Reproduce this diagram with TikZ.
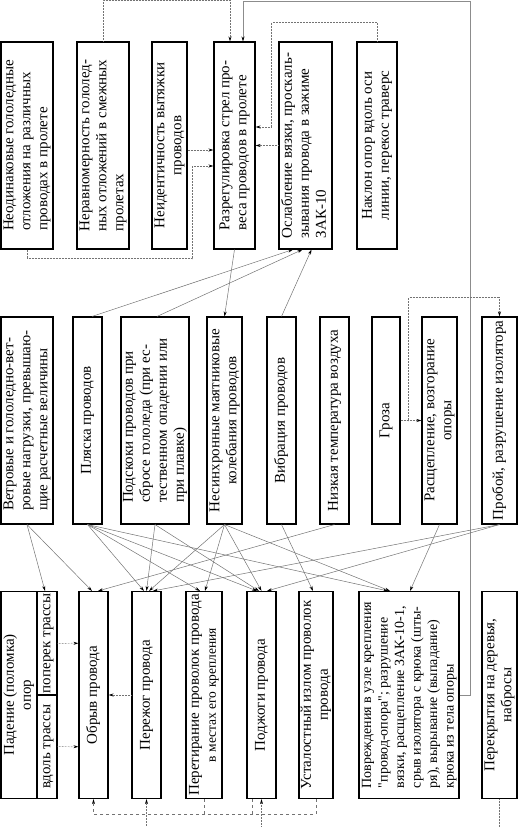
\documentclass[tikz,border=0pt]{standalone}
\usepackage{fontspec}
\setmainfont{Liberation Serif}[Ligatures=TeXOff]
\usepackage{graphicx}
\usetikzlibrary{arrows.meta,calc}
\newcommand{\rotlines}[2][c]{\rotatebox{90}{\begin{tabular}{@{}#1@{}}#2\end{tabular}}}

\begin{document}
\begin{tikzpicture}[
    x=1pt, y=-1pt,
    factor/.style={
      rectangle,
      draw=black,
      line width=1.1pt,
      fill=white,
      inner sep=0pt,
      minimum height=207pt,
      font=\fontsize{15}{17}\selectfont
    },
    cause/.style={
      -{Stealth[length=5pt,width=3pt,color=black]},
      line width=0.5pt,
      color=black!55
    },
    fback/.style={cause, densely dotted, line width=0.7pt},
    fdash/.style={cause, dashed, line width=0.7pt}
  ]
    \useasboundingbox (0,0) rectangle (518,827);

    % upper row
    \node[factor, minimum width=52pt] (t1) at (27,145.5)
      {\rotlines[l]{Неодинаковые гололедные\\отложения на различных\\проводах в пролете}};
    \node[factor, minimum width=52pt] (t2) at (103,145.5)
      {\rotlines[l]{Неравномерность гололед-\\ных отложений в смежных\\пролетах}};
    \node[factor, minimum width=35pt] (t3) at (169.5,145.5)
      {\rotlines{Неидентичность вытяжки\\проводов}};
    \node[factor, minimum width=41pt] (t4) at (234.5,145.5)
      {\rotlines[l]{Разрегулировка стрел про-\\веса проводов в пролете}};
    \node[factor, minimum width=53pt] (t5) at (305.5,145.5)
      {\rotlines[l]{Ослабление вязки, проскаль-\\зывания провода в зажиме\\ЗАК-10}};
    \node[factor, minimum width=40pt] (t6) at (377,145.5)
      {\rotlines{Наклон опор вдоль оси\\линии, перекос траверс}};

    % middle row
    \node[factor, minimum width=52pt] (m1) at (27,420.5)
      {\rotlines[l]{Ветровые и гололедно-вет-\\ровые нагрузки, превышаю-\\щие расчетные величины}};
    \node[factor, minimum width=29pt] (m2) at (87.5,420.5) {\rotlines{Пляска проводов}};
    \node[factor, minimum width=66pt] (m3) at (155,420.5)
      {\rotlines[l]{Подскоки проводов при\\сбросе гололеда (при ес-\\тественном опадении или\\при плавке)}};
    \node[factor, minimum width=35pt] (m4) at (224.5,420.5)
      {\rotlines{Несинхронные маятниковые\\колебания проводов}};
    \node[factor, minimum width=29pt] (m5) at (281.5,420.5) {\rotlines{Вибрация проводов}};
    \node[factor, minimum width=29pt] (m6) at (334.5,420.5) {\rotlines{Низкая температура воздуха}};
    \node[factor, minimum width=28pt] (m7) at (386,420.5) {\rotlines{Гроза}};
    \node[factor, minimum width=35pt] (m8) at (439.5,420.5)
      {\rotlines{Расщепление, возгорание\\опоры}};
    \node[factor, minimum width=35pt] (m9) at (499.5,420.5) {\rotlines{Пробой, разрушение изолятора}};

    % lower row
    \node[factor, minimum width=36pt] (b1) at (19,695) {\rotlines{Падение (поломка)\\опор}};
    \node[factor, minimum width=20pt, minimum height=103.5pt] (b1p) at (47,643.25)
      {\rotlines{поперек трассы}};
    \node[factor, minimum width=20pt, minimum height=103.5pt] (b1v) at (47,746.75)
      {\rotlines{вдоль трассы}};
    \node[factor, minimum width=29pt] (b2) at (93.5,695) {\rotlines{Обрыв провода}};
    \node[factor, minimum width=29pt] (b3) at (146.5,695) {\rotlines{Пережог провода}};
    \node[factor, minimum width=36pt] (b4) at (204,695)
      {\rotlines{Перетирание проволок провода\\{\fontsize{13.5}{15}\selectfont в местах его крепления}}};
    \node[factor, minimum width=29pt] (b5) at (261.5,695) {\rotlines{Поджоги провода}};
    \node[factor, minimum width=34pt] (b6) at (316,695)
      {\rotlines{Усталостный излом проволок\\провода}};
    \node[factor, minimum width=100pt, font=\fontsize{14}{16.5}\selectfont] (b7) at (409,695)
      {\rotlines[l]{Повреждения в узле крепления\\"провод-опора"; разрушение\\вязки, расщепление ЗАК-10-1,\\срыв изолятора с крюка (шты-\\ря), вырывание (выпадание)\\крюка из тела опоры}};
    \node[factor, minimum width=35pt] (b8) at (499.5,695)
      {\rotlines{Перекрытия на деревья,\\набросы}};

    % into the sag mismatch box
    \draw[fback] (t1.south) -- ++(0,9) -| ([xshift=-21pt,yshift=-20.5pt]t4.west)
      -- ([yshift=-20.5pt]t4.west);
    \draw[fback] ([yshift=-4.5pt]t3.east) -- ([yshift=-4.5pt]t4.west);
    \draw[fback] (t2.north) -- ++(0,-41) -| ([xshift=-4.5pt]t4.north);
    \draw[fback] (t6.north) -- ++(0,-19) -| ([xshift=16pt,yshift=18.5pt]t4.east)
      -- ([yshift=18.5pt]t4.east);
    \draw[fback] (t5.west) -- (t4.east);
    \draw[cause, color=black!45] (b7.east) -- ++(11,0) -- ++(0,-694) -| ([xshift=8.5pt]t4.north);

    % middle row up
    \draw[cause] (t4.south) -- (m4.north);
    \draw[cause] ([xshift=4.5pt]m2.north) -- ([xshift=-12.5pt]t5.south);
    \draw[cause] ([xshift=2pt]m3.north) -- ([xshift=-3pt]t5.south);
    \draw[cause] (m5.north) -- ([xshift=6pt]t5.south);

    % thunderstorm
    \draw[fback] (m7.east) -- (m8.west);
    \draw[fback] (m7.east) -- ++(8,0) |- ([yshift=19pt]m9.north) -- (m9.north);

    % middle row down
    \draw[cause] (m1.south) -- ([xshift=-2pt]b1p.north);
    \draw[cause] (m1.south) -- ([xshift=-1.5pt]b2.north);
    \draw[cause] (m2.south) -- ([xshift=-2.5pt]b3.north);
    \draw[cause] (m2.south) -- ([xshift=-4pt]b4.north);
    \draw[cause] (m2.south) -- ([xshift=-4.5pt]b5.north);
    \draw[cause] (m2.south) -- ([xshift=-21pt]b7.north);
    \draw[cause] (m3.south) -- (b3.north);
    \draw[cause] (m3.south) -- ([xshift=-2.5pt]b5.north);
    \draw[cause] (m4.south) -- ([xshift=2.5pt]b3.north);
    \draw[cause] (m4.south) -- ([xshift=1pt]b4.north);
    \draw[cause] (m4.south) -- (b5.north);
    \draw[cause] (m4.south) -- ([xshift=-19pt]b7.north);
    \draw[cause] (m5.south) -- ([xshift=-3pt]b6.north);
    \draw[cause] (m6.south) -- ([xshift=4.5pt]b2.north);
    \draw[cause] (m8.south) -- ([xshift=1pt]b7.north);
    \draw[cause] (m9.south) -- ([xshift=6.5pt]b3.north);
    \draw[cause] (m9.south) -- ([xshift=5.5pt]b5.north);

    % lower row
    \draw[fback] ([yshift=-0.25pt]b1p.east) -- ([yshift=51.75pt]b2.west);
    \draw[fback] ([yshift=0.25pt]b1v.east) -- ([yshift=-51.75pt]b2.west);
    \draw[fback] (b3.west) -- (b2.east);
    \draw[fdash] (b6.south) -- ++(0,15) -| (b2.south);
    \draw[fdash, -] (b4.south) -- ++(0,15);
    \draw[fdash, -] ([xshift=-9.5pt]b5.south) -- ++(0,15);
    \draw[fback] (b8.south) -- ++(0,28) -| (b3.south);
    \draw[fback] (b8.south) -- ++(0,28) -| (b5.south);
  \end{tikzpicture}
\end{document}
